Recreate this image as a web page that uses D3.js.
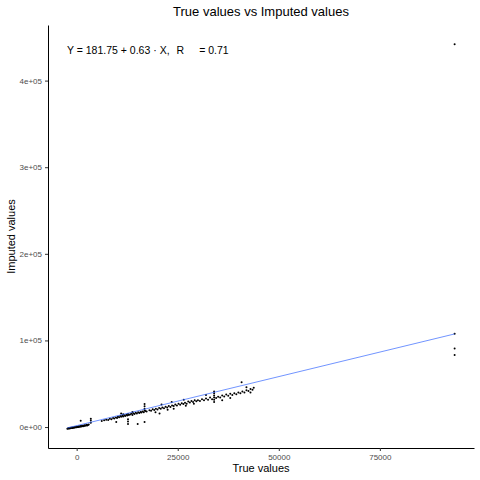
<!DOCTYPE html>
<html>
<head>
<meta charset="utf-8">
<script src="https://cdn.jsdelivr.net/npm/d3@7"></script>
<style>
  body { margin: 0; background: #fff; }
  svg text { font-family: "Liberation Sans", Arial, sans-serif; }
</style>
</head>
<body>
<script>
const trueVals = [
  -2300, -2100, -1900, -1700, -1500, -1400, -1200, -1000, -900, -700, -500, -400, -200, 0, 100, 300, 400, 600, 800, 900,
  1100, 1300, 1500, 1600, 1800, 2000, 2200, 2400, 2600, 2800, 3000, -2000, -1600, -1100, -600, -100, 500, 1000, 1400, 1900,
  2500, 1000, 3500, 3500, 3500,
  6200, 6800, 7300, 7800, 8200, 8600, 9000, 9300, 9700, 10000, 10200, 10500, 10800, 11000, 11300, 11500, 11800, 12000, 12300, 12500,
  12700, 12900, 13200, 13500, 13800, 14000, 14300, 14600, 14900, 15200, 15500, 15800, 16000, 16300, 16600, 16800, 16800, 16800, 16800, 17000,
  17300, 9800, 12700, 12700, 12700, 15100, 16800, 11000, 13800, 11500,
  18000, 18400, 18800, 19200, 19600, 20000, 20400, 20800, 21200, 21600, 22000, 22400, 22800, 23200, 23600, 24000, 24400, 24800, 25200, 25600,
  26000, 26400, 26800, 27200, 27600, 28000, 28400, 28800, 29200, 29600, 21000, 23500, 26500, 19500, 22500, 27000, 24000, 20500, 29000,
  30000, 30500, 31000, 31500, 32000, 32500, 33000, 33500, 34000, 34000, 34000, 34000, 34000, 34000, 34500, 35000, 35500, 36000, 36500, 37000,
  37500, 38000, 38500, 39000, 39500, 40000, 40500, 40800, 41000, 41500, 42000, 42500, 43000, 43000, 43500, 43800, 42000, 32000, 36000, 38000,
  93500, 93500, 93500, 93500
];
const imputedVals = [
  -2000, -1700, -1500, -1600, -1200, -1000, -900, -1100, -700, -500, -600, -300, -100, -200, 100, 300, 0, 500, 400, 800,
  600, 1000, 1300, 900, 1500, 1400, 1800, 2100, 1700, 2400, 2800, -1300, -900, -600, -200, 200, 700, 1100, 1600, 2000,
  2600, 7300, 5000, 7500, 9500,
  7000, 7800, 8500, 8200, 9600, 9000, 10400, 9800, 11000, 10500, 12000, 11200, 12800, 11800, 13000, 12300, 13600, 12800, 14200, 13300,
  15000, 13800, 14500, 15300, 14000, 16000, 15000, 16500, 15600, 17000, 16200, 17500, 16800, 18000, 17200, 19000, 21000, 24000, 26500, 18500,
  17800, 5800, 3500, 6500, 9000, 3500, 5800, 15500, 17500, 14800,
  19500, 18800, 20500, 19800, 21200, 20300, 22000, 21000, 22600, 21800, 23500, 22500, 24200, 23000, 25000, 24200, 26000, 25000, 26800, 25600,
  27500, 26500, 28000, 27000, 29500, 28200, 30000, 29000, 30800, 29800, 26000, 29000, 31500, 17000, 20000, 24500, 21000, 15500, 27000,
  31000, 30000, 32200, 30800, 33000, 31500, 34000, 32000, 29000, 31500, 34000, 36500, 39000, 41000, 33500, 35000, 34000, 36500, 35200, 37500,
  36000, 38500, 37000, 39000, 38000, 40000, 39000, 51800, 41000, 40000, 42500, 41500, 44000, 40000, 43000, 45500, 46000, 37000, 31000, 33500,
  442000, 107800, 90600, 83200
];
// fitted line end points
const fitX = [-2300, 93500];
const fitY = [-1000, 107500];

const xTicks = [0, 25000, 50000, 75000];
const yTicks = [0, 100000, 200000, 300000, 400000];

const W = 480, H = 480;
const margin = { top: 25, right: 6, bottom: 32, left: 48 };

const points = trueVals.map((v, i) => ({ x: v, y: imputedVals[i] }));

// ggplot style 5% expansion
function expand(ext) {
  let r = ext[1] - ext[0];
  return [ext[0] - r * 0.05, ext[1] + r * 0.05];
}

let svg = d3.select("body").append("svg").attr("width", W).attr("height", H);

let x = d3.scaleLinear().domain(expand(d3.extent(trueVals)))
  .range([margin.left, W - margin.right]);
let y = d3.scaleLinear().domain(expand(d3.extent(imputedVals)))
  .range([H - margin.bottom, margin.top]);

// axes
let xAxis = svg.append("g").attr("transform", "translate(0," + (H - margin.bottom) + ")")
  .call(d3.axisBottom(x).tickValues(xTicks).tickSize(3).tickPadding(3).tickSizeOuter(0).tickFormat(d3.format("d")));
let yAxis = svg.append("g").attr("transform", "translate(" + margin.left + ",0)")
  .call(d3.axisLeft(y).tickValues(yTicks).tickSize(3).tickPadding(3).tickSizeOuter(0)
    .tickFormat(d => d == 0 ? "0e+00" : d3.format(".0e")(d).replace("e+", "e+0")));

[xAxis, yAxis].forEach(a => {
  a.select(".domain").attr("stroke", "#000").attr("stroke-width", 1);
  a.selectAll(".tick line").attr("stroke", "#333");
  a.selectAll(".tick text").attr("fill", "#4d4d4d").style("font-size", "8px");
});

// points
svg.append("g").selectAll("circle").data(points).join("circle")
  .attr("cx", d => x(d.x)).attr("cy", d => y(d.y))
  .attr("r", 1).attr("fill", "#000");

// regression line
svg.append("path")
  .datum(fitX.map((v, i) => [v, fitY[i]]))
  .attr("d", d3.line().x(d => x(d[0])).y(d => y(d[1])))
  .attr("fill", "none").attr("stroke", "#3366FF").attr("stroke-width", 0.7);

// equation label (the R-squared superscript is blank in the original)
let eq = svg.append("text").attr("x", 67).attr("y", 54)
  .style("font-size", "10.5px").attr("fill", "#000");
eq.append("tspan").text("Y = 181.75 + 0.63 · X,");
eq.append("tspan").attr("dx", 7).text("R");
eq.append("tspan").attr("dx", 15).text("= 0.71");

// titles
let cx = (margin.left + W - margin.right) / 2;
svg.append("text").attr("x", cx).attr("y", 16).attr("text-anchor", "middle")
  .style("font-size", "13px").text("True values vs Imputed values");
svg.append("text").attr("x", cx).attr("y", 472).attr("text-anchor", "middle")
  .style("font-size", "11px").text("True values");
svg.append("text").attr("transform", "translate(15," + ((margin.top + H - margin.bottom) / 2) + ") rotate(-90)")
  .attr("text-anchor", "middle").style("font-size", "11px").text("Imputed values");
</script>
</body>
</html>
